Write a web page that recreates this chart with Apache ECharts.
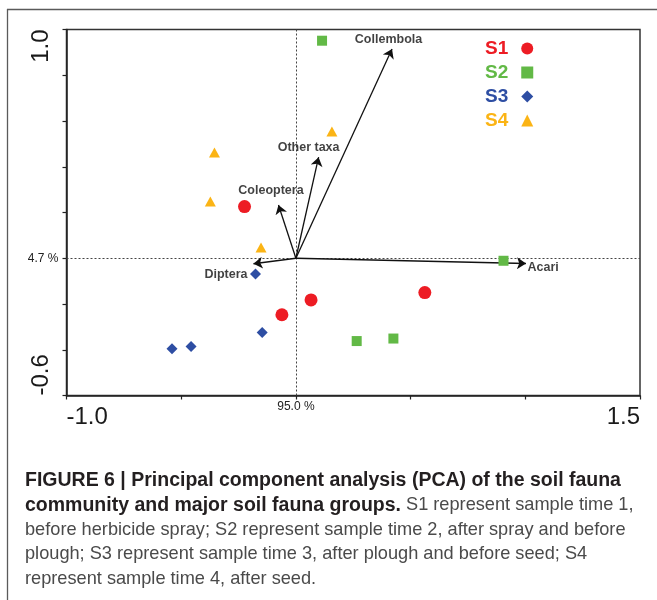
<!DOCTYPE html>
<html>
<head>
<meta charset="utf-8">
<script src="https://cdn.jsdelivr.net/npm/echarts@6/dist/echarts.min.js"></script>
<style>
html,body{margin:0;padding:0;background:#fff;}
#chart{width:657px;height:600px;}
</style>
</head>
<body>
<div id="chart"></div>
<script>
// ---- data ----
const s1X = [-0.224, 0.066, -0.061, 0.562];
const s1Y = [0.226, -0.182, -0.247, -0.150];
const s2X = [0.114, 0.905, 0.265, 0.425];
const s2Y = [0.951, -0.011, -0.362, -0.351];
const s3X = [-0.176, -0.147, -0.540, -0.457];
const s3Y = [-0.069, -0.325, -0.396, -0.386];
const s4X = [-0.355, -0.373, -0.152, 0.157];
const s4Y = [0.462, 0.248, 0.047, 0.554];

const seriesNames = ['S1', 'S2', 'S3', 'S4'];

const taxa = ['Acari', 'Collembola', 'Other taxa', 'Coleoptera', 'Diptera'];
const loadX = [1.003, 0.419, 0.099, -0.076, -0.185];
const loadY = [-0.023, 0.915, 0.442, 0.233, -0.024];

const xTickValues = [-1.0, 0, 1.5];
const xTickTexts = ['-1.0', '95.0 %', '1.5'];
const yTickValues = [1.0, -0.6];
const yTickTexts = ['1.0', '-0.6'];
const yMidValues = [0];
const yMidTexts = ['4.7 %'];

const captionLines = [
  [['b', 'FIGURE 6 | Principal component analysis (PCA) of the soil fauna']],
  [['b', 'community and major soil fauna groups.'], ['r', ' S1 represent sample time 1,']],
  [['r', 'before herbicide spray; S2 represent sample time 2, after spray and before']],
  [['r', 'plough; S3 represent sample time 3, after plough and before seed; S4']],
  [['r', 'represent sample time 4, after seed.']]
];

// ---- styles ----
const FONT = "'Liberation Sans', Arial, Helvetica, sans-serif";
const colors = ['#ed1c24', '#62b946', '#2e4ea3', '#fbb415'];
const symbols = ['circle', 'rect', 'diamond', 'triangle'];
const symbolSizes = [13, 10, 11, [11, 10]];
const labelLayout = {
  'Acari':      { align: 'left',   dx: 2,    dy: 5 },
  'Collembola': { align: 'center', dx: -3,   dy: -8.5 },
  'Other taxa': { align: 'center', dx: -9.5, dy: -9.5 },
  'Coleoptera': { align: 'center', dx: -7,   dy: -13.5 },
  'Diptera':    { align: 'right',  dx: -5.5, dy: 11 }
};

function pick(values, texts, v) {
  for (let i = 0; i < values.length; i++) {
    if (Math.abs(values[i] - v) < 1e-6) return texts[i];
  }
  return null;
}

const groupsX = [s1X, s2X, s3X, s4X];
const groupsY = [s1Y, s2Y, s3Y, s4Y];

const scatterSeries = seriesNames.map((name, k) => ({
  name: name,
  type: 'scatter',
  symbol: symbols[k],
  symbolSize: symbolSizes[k],
  itemStyle: { color: colors[k], opacity: 1 },
  z: 5,
  data: groupsX[k].map((x, i) => [x, groupsY[k][i]])
}));

scatterSeries[0].markLine = {
  silent: true,
  symbol: 'none',
  label: { show: false },
  lineStyle: { type: [2, 2], color: '#444', width: 1 },
  data: [{ xAxis: 0 }, { yAxis: 0 }],
  z: 1
};

const arrowSeries = {
  name: 'loadings',
  type: 'lines',
  coordinateSystem: 'cartesian2d',
  symbol: ['none', 'arrow'],
  symbolSize: [0, 9],
  silent: true,
  z: 3,
  lineStyle: { color: '#111', width: 1.3, opacity: 1 },
  data: taxa.map((t, i) => ({ coords: [[0, 0], [loadX[i], loadY[i]]] }))
};

const arrowLabelSeries = {
  name: 'taxa',
  type: 'scatter',
  symbolSize: 1,
  itemStyle: { color: 'rgba(0,0,0,0)' },
  silent: true,
  z: 4,
  data: taxa.map((t, i) => {
    const L = labelLayout[t];
    return {
      name: t,
      value: [loadX[i], loadY[i]],
      label: {
        show: true,
        formatter: t,
        position: [L.dx, L.dy],
        align: L.align,
        verticalAlign: 'middle',
        color: '#111',
        fontWeight: 'bold',
        fontSize: 12.5,
        fontFamily: FONT
      }
    };
  })
};

let captionText = captionLines.map(line => line.map(seg => '{' + seg[0] + '|' + seg[1] + '}').join('')).join('\n');

const option = {
  backgroundColor: '#fff',
  animation: false,
  textStyle: { fontFamily: FONT },
  title: {
    text: captionText,
    left: 25,
    top: 468.5,
    padding: 0,
    textStyle: {
      rich: {
        b: { fontFamily: FONT, fontSize: 19.5, fontWeight: 'bold', color: '#231f20', lineHeight: 24.5 },
        r: { fontFamily: FONT, fontSize: 18.2, fontWeight: 'normal', color: '#4a4a4a', lineHeight: 24.5 }
      }
    }
  },
  legend: {
    orient: 'vertical',
    left: 480,
    top: 34,
    align: 'right',
    itemWidth: 12,
    itemHeight: 12,
    itemGap: 5,
    selectedMode: false,
    textStyle: { fontSize: 19, fontWeight: 'bold', fontFamily: FONT, padding: [0, 8, 0, 0] },
    data: seriesNames.map((n, k) => ({ name: n, textStyle: { color: colors[k] } }))
  },
  graphic: [
    { type: 'line', silent: true, shape: { x1: 7.5, y1: 9, x2: 7.5, y2: 600 }, style: { stroke: '#5a5a5a', lineWidth: 1.3 } },
    { type: 'line', silent: true, shape: { x1: 7, y1: 9.5, x2: 657, y2: 9.5 }, style: { stroke: '#5a5a5a', lineWidth: 1.3 } }
  ],
  grid: {
    left: 66.5, top: 29.5, width: 573.5, height: 366,
    show: true, borderColor: '#333', borderWidth: 1.5, backgroundColor: 'transparent'
  },
  xAxis: {
    type: 'value', min: -1.0, max: 1.5, interval: 0.5,
    axisLine: { show: true, onZero: false, lineStyle: { color: '#222', width: 1.5 } },
    axisTick: { show: true, length: 4, lineStyle: { color: '#222', width: 1.2 } },
    splitLine: { show: false },
    axisLabel: {
      show: true, margin: 5, hideOverlap: false,
      showMinLabel: true, showMaxLabel: true,
      alignMinLabel: 'left', alignMaxLabel: 'right',
      formatter: v => {
        const t = pick(xTickValues, xTickTexts, v);
        if (t === null) return '';
        return v === 0 ? '{s|' + t + '}' : '{g|' + t + '}';
      },
      rich: {
        g: { fontSize: 24, color: '#1a1a1a', fontFamily: FONT, padding: [5, 0, 0, 0] },
        s: { fontSize: 12, color: '#222', fontFamily: FONT }
      }
    }
  },
  yAxis: [
    {
      type: 'value', min: -0.6, max: 1.0, interval: 0.2, position: 'left',
      axisLine: { show: true, onZero: false, lineStyle: { color: '#222', width: 1.5 } },
      axisTick: { show: true, length: 4, lineStyle: { color: '#222', width: 1.2 } },
      splitLine: { show: false },
      axisLabel: {
        show: true, rotate: 90, margin: 13, hideOverlap: false,
        showMinLabel: true, showMaxLabel: true,
        alignMinLabel: 'left', alignMaxLabel: 'right',
        fontSize: 24, color: '#1a1a1a', fontFamily: FONT,
        formatter: v => { const t = pick(yTickValues, yTickTexts, v); return t === null ? '' : t; }
      }
    },
    {
      type: 'value', min: -0.6, max: 1.0, interval: 0.2, position: 'left', offset: 0,
      axisLine: { show: false }, axisTick: { show: false }, splitLine: { show: false },
      axisLabel: {
        show: true, margin: 8, hideOverlap: false,
        fontSize: 12, color: '#222', fontFamily: FONT,
        formatter: v => { const t = pick(yMidValues, yMidTexts, v); return t === null ? '' : t; }
      }
    }
  ],
  series: scatterSeries.concat([arrowSeries, arrowLabelSeries])
};

const chart = echarts.init(document.getElementById('chart'), null, { renderer: 'canvas' });
chart.setOption(option);
</script>
</body>
</html>
